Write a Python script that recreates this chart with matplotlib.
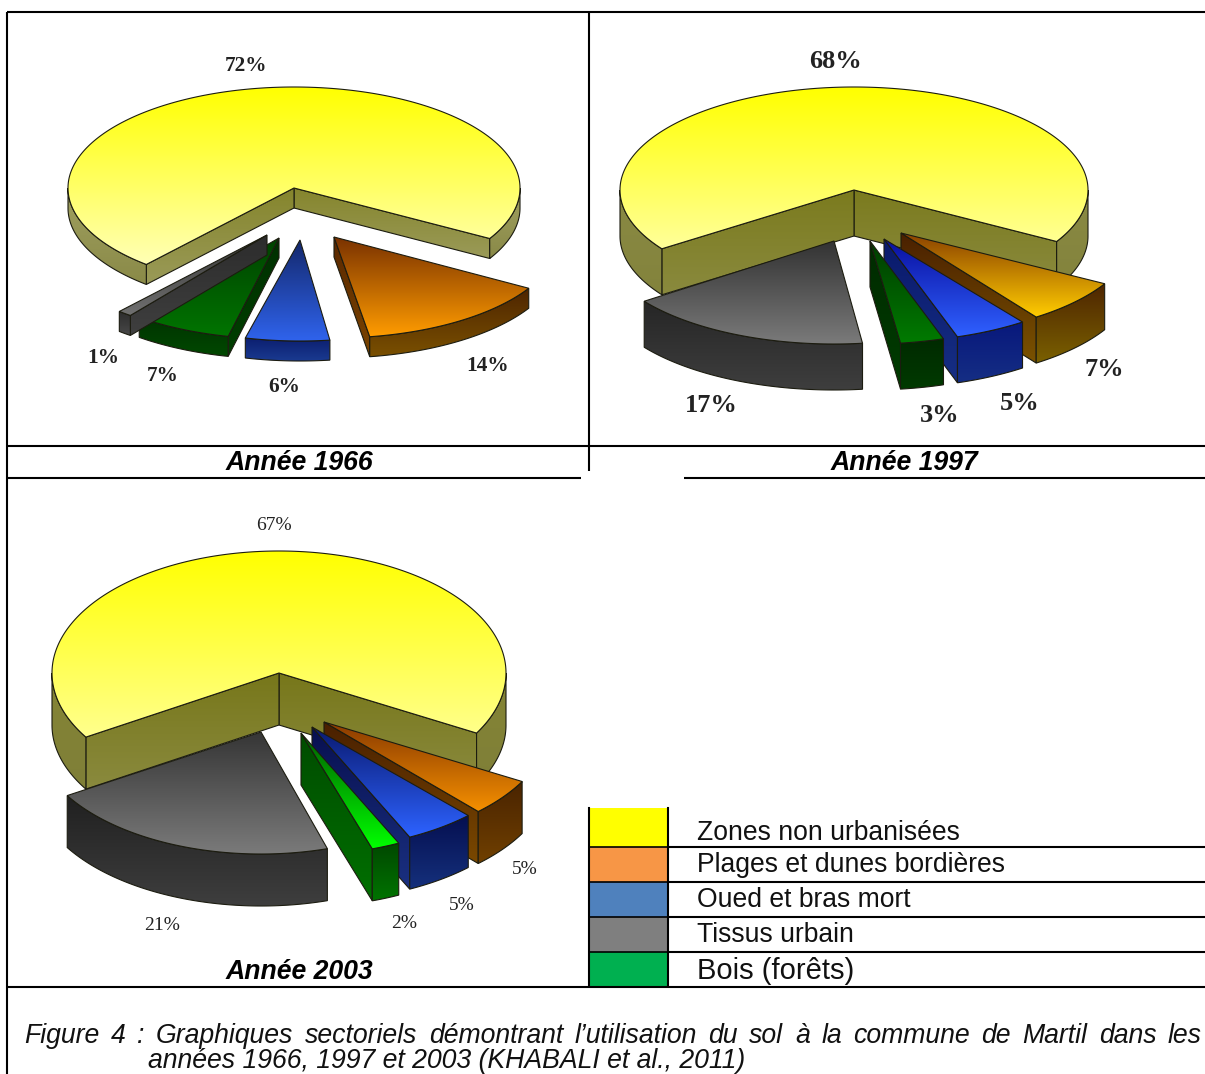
import numpy as np
import matplotlib
matplotlib.use('Agg')
import matplotlib.pyplot as plt
from matplotlib.colors import to_rgb
from matplotlib.path import Path
from matplotlib.patches import PathPatch, Polygon, Rectangle

plt.rcParams['font.family'] = ['Liberation Sans', 'DejaVu Sans']

# land use shares, same slice order everywhere, counter-clockwise from the yellow one
slice_names = ['Zones non urbanisées', 'Tissus urbain', 'Bois (forêts)', 'Oued et bras mort', 'Plages et dunes bordières']
values_1966 = [72, 1, 7, 6, 14]
values_1997 = [68, 17, 3, 5, 7]
values_2003 = [67, 21, 2, 5, 5]

legend_labels = ['Zones non urbanisées', 'Plages et dunes bordières', 'Oued et bras mort', 'Tissus urbain', 'Bois (forêts)']
legend_colors = ['#ffff00', '#f79646', '#4f81bd', '#7f7f7f', '#00b050']
year_titles = ['Année 1966', 'Année 1997', 'Année 2003']

W, H = 1205, 1074
fig = plt.figure(figsize=(W / 100, H / 100), dpi=100)
ax = fig.add_axes([0, 0, 1, 1])
ax.set_axis_off()


def lerp(c1, c2, n=64):
    a = np.array(to_rgb(c1))
    b = np.array(to_rgb(c2))
    t = np.linspace(0, 1, n)[:, None, None]
    return a[None, None, :] * (1 - t) + b[None, None, :] * t


def shaded(verts, c1, c2, z):
    # polygon with a top to bottom gradient
    verts = np.array(verts)
    closed = np.vstack([verts, verts[0]])
    patch = PathPatch(Path(closed), fc='none', ec='none', zorder=z)
    ax.add_patch(patch)
    im = ax.imshow(lerp(c1, c2), extent=(verts[:, 0].min(), verts[:, 0].max(), verts[:, 1].max(), verts[:, 1].min()),
                   aspect='auto', origin='upper', zorder=z, interpolation='bilinear')
    im.set_clip_path(patch)
    ax.add_patch(Polygon(verts, closed=True, fill=False, ec='#1c1c10', lw=0.8, zorder=z))


def arc(cx, cy, rx, ry, a0, a1):
    a = np.radians(np.linspace(a0, a1, max(int(a1 - a0) * 2, 6)))
    return np.column_stack([cx + rx * np.cos(a), cy - ry * np.sin(a)])


def draw_slice(cx, cy, rx, ry, depth, a0, a1, top, wall, rim, z):
    r = arc(cx, cy, rx, ry, a0, a1)
    apex = np.array([cx, cy])
    down = np.array([0, depth])

    # cut faces, only those turned towards the viewer
    if np.sin(np.radians(a0 - 90)) < 0:
        shaded([apex, r[0], r[0] + down, apex + down], wall[0], wall[1], z)
    if np.sin(np.radians(a1 + 90)) < 0:
        shaded([apex, r[-1], r[-1] + down, apex + down], wall[0], wall[1], z)

    # only the front half of the rim can be seen
    for lo, hi in ((-180, 0), (180, 360)):
        l = max(a0, lo)
        h = min(a1, hi)
        if h > l:
            part = arc(cx, cy, rx, ry, l, h)
            shaded(np.vstack([part, (part + down)[::-1]]), rim[0], rim[1], z)

    shaded(np.vstack([apex, r]), top[0], top[1], z)


def draw_pie(values, cx, cy, rx, ry, depth, start, offsets, shades):
    edges = start + np.cumsum([0] + list(values)) * 3.6
    # back slices first, the yellow block is always behind
    order = [0, 4, 3, 2, 1]
    for k, i in enumerate(order):
        dx, dy, da = offsets[i]
        draw_slice(cx + dx, cy + dy, rx, ry, depth, edges[i] + da, edges[i + 1] + da,
                   shades[i][0], shades[i][1], shades[i][2], 3 + 0.1 * k)


shades_1966 = [
    (('#ffff00', '#ffffb4'), ('#85852c', '#9a9a58'), ('#a0a060', '#8a8a48')),
    (('#333333', '#707070'), ('#2c2c2c', '#3f3f3f'), ('#2c2c2c', '#484848')),
    (('#004200', '#007400'), ('#003000', '#003f00'), ('#003300', '#004800')),
    (('#14286c', '#2f63ec'), ('#102060', '#142c80'), ('#0c1f70', '#1a3a90')),
    (('#7a3200', '#ff9c00'), ('#5a2800', '#7a4400'), ('#4e2500', '#7a5000')),
]
shades_1997 = [
    (('#ffff00', '#ffff99'), ('#7b7b1e', '#8a8a3e'), ('#8a8a44', '#83833c')),
    (('#333333', '#7a7a7a'), ('#262626', '#3c3c3c'), ('#262626', '#3e3e3e')),
    (('#003c00', '#007a00'), ('#002a00', '#003c00'), ('#002a00', '#003a00')),
    (('#0a10a0', '#2f60ff'), ('#0a1a6c', '#162e84'), ('#08187c', '#152e84')),
    (('#8a4000', '#ffcc00'), ('#4a2000', '#7a5200'), ('#4e2500', '#7a6000')),
]
shades_2003 = [
    (('#ffff00', '#ffff8c'), ('#77771a', '#8a8a3e'), ('#858535', '#7f7f38')),
    (('#363636', '#7a7a7a'), ('#1f1f1f', '#3c3c3c'), ('#202020', '#3e3e3e')),
    (('#006000', '#00ff00'), ('#004c00', '#007000'), ('#004800', '#007400')),
    (('#0a1a70', '#2d62ff'), ('#081050', '#1a3080'), ('#050f50', '#15307c')),
    (('#8a3a00', '#f59000'), ('#4a2000', '#7a4800'), ('#4a2400', '#704000')),
]

draw_pie(values_1966, 294, 188, 226, 101, 20, -30,
         [(0, 0, 0), (-27, 47, 0), (-15, 50, -1), (6, 52, -2), (40, 49, -0.5)], shades_1966)
draw_pie(values_1997, 854, 190, 234, 103, 46, -30,
         [(0, 0, 0), (-20, 51, 1), (16, 51, 1.5), (30, 49, 1.5), (47, 43, 0.5)], shades_1997)
draw_pie(values_2003, 279, 673, 227, 122, 52, -29.5,
         [(0, 0, 0), (-18, 59, -0.3), (22, 60, 1), (33, 54, 1), (45, 49, 0.3)], shades_2003)

# percentage labels
pos_1966 = [(246, 66), (103, 358), (163, 376), (284, 387), (488, 366)]
pos_1997 = [(836, 61), (711, 406), (940, 415), (1020, 404), (1104, 369)]
pos_2003 = [(274, 526), (162, 925), (404, 923), (462, 906), (525, 870)]

for vals, pos, size, weight in ((values_1966, pos_1966, 15.3, 'bold'), (values_1997, pos_1997, 19, 'bold'), (values_2003, pos_2003, 14, 'normal')):
    for v, (x, y) in zip(vals, pos):
        ax.text(x, y, f'{v}%', family=['Liberation Serif', 'DejaVu Serif'], fontsize=size, weight=weight,
                color='#222222', ha='center', va='center', zorder=6)

# table rules
rules = [
    (7, 12, W, 12), (7, 12, 7, H), (589, 12, 589, 471), (7, 446, W, 446),
    (7, 478, 581, 478), (684, 478, W, 478), (7, 986.5, W, 986.5),
    (668, 847, W, 847), (668, 882, W, 882), (668, 917, W, 917), (668, 952, W, 952),
]
for x0, y0, x1, y1 in rules:
    ax.plot([x0, x1], [y0, y1], color='black', lw=1.5, solid_capstyle='butt', zorder=8)

# colour key
row_edges = [808, 847, 882, 917, 952, 986.5]
for i, (lab, col) in enumerate(zip(legend_labels, legend_colors)):
    ax.add_patch(Rectangle((589, row_edges[i]), 79, row_edges[i + 1] - row_edges[i], fc=col, ec='none', zorder=2))
    ax.text(697, [840, 872, 907, 942, 979][i], lab, fontsize=21 if i == 4 else 19.1, va='baseline', color='#111111', zorder=6)
ax.plot([589, 589], [808, 986], color='black', lw=1.5, zorder=8)
ax.plot([668, 668], [808, 986], color='black', lw=1.5, zorder=8)
for yy in row_edges[1:5]:
    ax.plot([589, 668], [yy, yy], color='black', lw=1.2, zorder=8)

for title, x, y in zip(year_titles, (299, 904, 299), (463, 463, 972)):
    ax.text(x, y, title, fontsize=19.2, weight='bold', style='italic', ha='center', va='center', zorder=6)

ax.set_xlim(0, W)
ax.set_ylim(H, 0)

# caption, first line justified word by word
line1 = 'Figure 4 : Graphiques sectoriels démontrant l’utilisation du sol à la commune de Martil dans les'.split()
renderer = fig.canvas.get_renderer()
words = [ax.text(0, 1043, w, fontsize=19.2, style='italic', color='#111111', va='baseline', zorder=6) for w in line1]
widths = [w.get_window_extent(renderer).width for w in words]
gap = (1202 - 24 - sum(widths)) / (len(words) - 1)
x = 24
for w, wd in zip(words, widths):
    w.set_x(x)
    x += wd + gap
ax.text(148, 1068, 'années 1966, 1997 et 2003 (KHABALI et al., 2011)', fontsize=19.2, style='italic',
        color='#111111', va='baseline', zorder=6)

fig.savefig('out.png', dpi=100, facecolor='white')
